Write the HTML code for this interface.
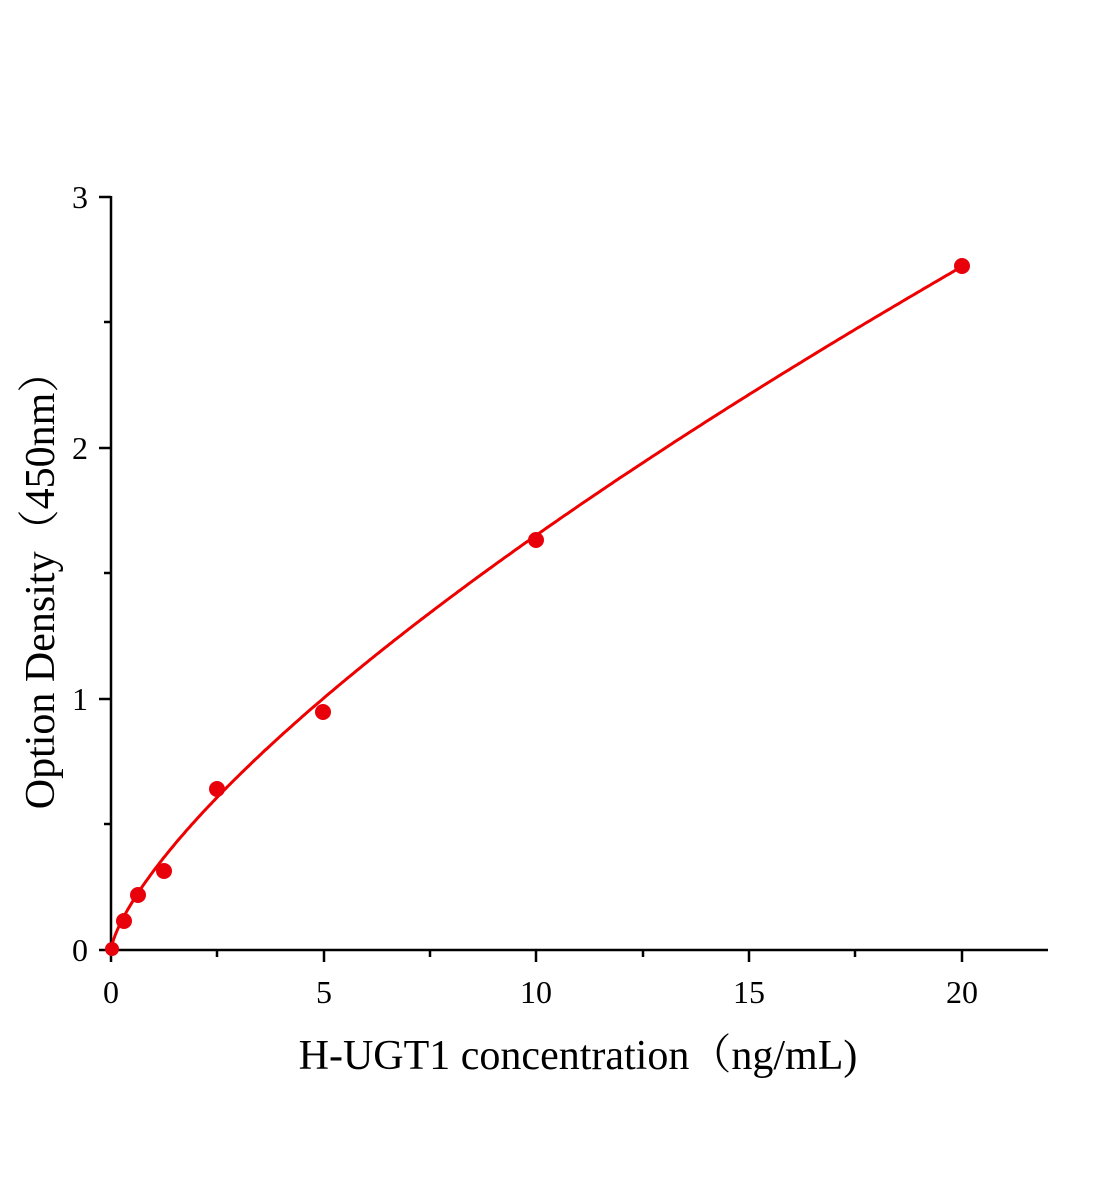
<!DOCTYPE html>
<html><head><meta charset="utf-8"><style>
body{margin:0;background:#fff}
svg{display:block}
text{font-family:"Liberation Serif","Noto Serif CJK SC",serif;fill:#000}
</style></head><body>
<svg id="s" width="1104" height="1200" viewBox="0 0 1104 1200">
<g stroke="#000" stroke-width="2.5" fill="none">
<line x1="111" y1="196" x2="111" y2="951"/>
<line x1="110" y1="950" x2="1048" y2="950"/>
<line x1="111" y1="950" x2="111" y2="962"/>
<line x1="324" y1="950" x2="324" y2="962"/>
<line x1="536" y1="950" x2="536" y2="962"/>
<line x1="749" y1="950" x2="749" y2="962"/>
<line x1="962" y1="950" x2="962" y2="962"/>
<line x1="217" y1="950" x2="217" y2="957"/>
<line x1="430" y1="950" x2="430" y2="957"/>
<line x1="643" y1="950" x2="643" y2="957"/>
<line x1="855" y1="950" x2="855" y2="957"/>
<line x1="99" y1="950" x2="111" y2="950"/>
<line x1="99" y1="699" x2="111" y2="699"/>
<line x1="99" y1="448" x2="111" y2="448"/>
<line x1="99" y1="197" x2="111" y2="197"/>
<line x1="104" y1="824" x2="111" y2="824"/>
<line x1="104" y1="573" x2="111" y2="573"/>
<line x1="104" y1="322" x2="111" y2="322"/>
</g>
<g font-size="32" text-anchor="middle">
<text x="111" y="1003">0</text><text x="324" y="1003">5</text><text x="536" y="1003">10</text><text x="749" y="1003">15</text><text x="962" y="1003">20</text>
</g>
<g font-size="32" text-anchor="end">
<text x="88" y="961">0</text><text x="88" y="710">1</text><text x="88" y="459">2</text><text x="88" y="208">3</text>
</g>
<text x="578" y="1069" font-size="42" text-anchor="middle">H-UGT1 concentration（ng/mL)</text>
<text transform="translate(54,580) rotate(-90)" font-size="42" text-anchor="middle">Option Density（450nm）</text>
<path id="c" fill="none" stroke="#e00" stroke-width="3"/>
<g fill="#e8000b">
<circle cx="112" cy="949" r="7"/>
<circle cx="124" cy="921" r="8"/>
<circle cx="138" cy="895" r="8"/>
<circle cx="164" cy="871" r="8"/>
<circle cx="217" cy="789" r="8"/>
<circle cx="323" cy="712" r="8"/>
<circle cx="536" cy="540" r="8"/>
<circle cx="962" cy="266" r="8"/>
</g>
</svg>
<script>
var d="";for(var i=0;i<=400;i++){var x=20*Math.pow(i/400,1.5);var y=0.315*Math.pow(x,0.72);var px=111+x*42.55,py=950-y*251;d+=(i?"L":"M")+px.toFixed(1)+","+py.toFixed(1);}
document.getElementById("c").setAttribute("d",d);
</script>
</body></html>
